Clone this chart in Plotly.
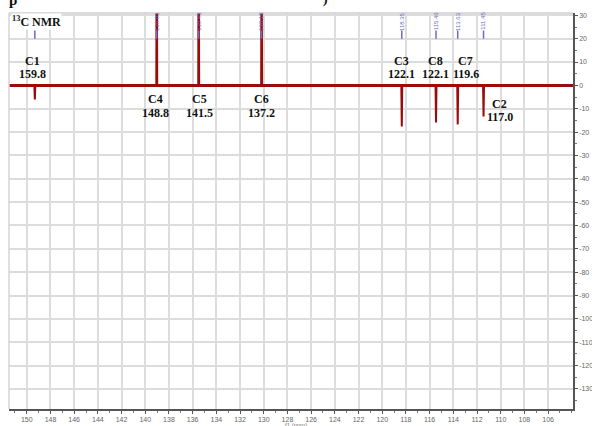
import plotly.graph_objects as go

# ---- data ----
peak_ppm = [149.32, 139.03, 135.49, 130.18, 118.35, 115.46, 113.63, 111.45]
peak_int = [-6.0, 80.0, 80.0, 80.0, -17.6, -15.9, -16.7, -13.3]
pick_labels = ["", "139.03", "135.49", "130.18", "118.35", "115.46", "113.63", "111.45"]

carbon_names = ["C1", "C4", "C5", "C6", "C3", "C8", "C7", "C2"]
carbon_shifts = ["159.8", "148.8", "141.5", "137.2", "122.1", "122.1", "119.6", "117.0"]
label_ppm = [149.49, 139.1, 135.45, 130.17, 118.35, 115.5, 112.95, 110.1]
name_y = [10.3, -6.0, -6.0, -6.0, 10.3, 10.3, 10.3, -8.1]
shift_y = [4.7, -12.0, -12.0, -12.0, 4.7, 4.7, 4.7, -13.7]

x_ticks = list(range(150, 105, -2))
y_ticks = list(range(30, -131, -10))

x_range = [151.5, 103.9]
y_range = [-138.6, 31.0]

RED = "#9a0c0c"
BLUE = "#6b6bc2"
SERIF = "Liberation Serif, Times New Roman, serif"

L, R, T, B = 9, 573, 13, 409
W, H = 592, 426

fig = go.Figure()

# baseline
fig.add_trace(go.Scatter(x=[x_range[0], x_range[1]], y=[0, 0], mode="lines",
                         line=dict(color=RED, width=3), hoverinfo="skip", showlegend=False))

# peaks as narrow sticks
px, py = [], []
for p, h in zip(peak_ppm, peak_int):
    px += [p + 0.04, p, p - 0.04, None]
    py += [0, h, 0, None]
fig.add_trace(go.Scatter(x=px, y=py, mode="lines", line=dict(color=RED, width=2),
                         hoverinfo="skip", showlegend=False))

# peak-pick ticks (blue)
tx, ty = [], []
for p in peak_ppm:
    tx += [p, p, None]
    ty += [20.0, 23.5, None]
fig.add_trace(go.Scatter(x=tx, y=ty, mode="lines", line=dict(color=BLUE, width=1.5),
                         hoverinfo="skip", showlegend=False))

annotations = []
for p, lab in zip(peak_ppm, pick_labels):
    if lab:
        annotations.append(dict(x=p, y=27.5, xref="x", yref="y", text=lab, showarrow=False,
                                textangle=-90, font=dict(size=6, color=BLUE, family="Liberation Sans")))

for xp, nm, sh, ny, sy in zip(label_ppm, carbon_names, carbon_shifts, name_y, shift_y):
    annotations.append(dict(x=xp, y=ny, xref="x", yref="y", text="<b>%s</b>" % nm, showarrow=False,
                            font=dict(size=12, color="#111", family=SERIF)))
    annotations.append(dict(x=xp, y=sy, xref="x", yref="y", text="<b>%s</b>" % sh, showarrow=False,
                            font=dict(size=12, color="#111", family=SERIF)))

# 13C NMR label
annotations.append(dict(x=(11 - L) / (R - L), y=1 - (21 - T) / (B - T), xref="paper", yref="paper",
                        text="<b><sup>13</sup>C NMR</b>", showarrow=False, xanchor="left", yanchor="middle",
                        font=dict(size=12, color="#111", family=SERIF), bgcolor="white", borderpad=0))

# x-axis title (small, partly cut at the bottom edge)
annotations.append(dict(x=(296 - L) / (R - L), y=-(420 - B) / (B - T), xref="paper", yref="paper",
                        text="f1 (ppm)", showarrow=False, xanchor="center", yanchor="top",
                        font=dict(size=6, color="#777", family="Liberation Sans")))

# caption fragments cut off at the top of the image
annotations.append(dict(x=(7 - L) / (R - L), y=1 + 13 / (B - T), xref="paper", yref="paper", text="<b>p</b>",
                        showarrow=False, xanchor="left", yanchor="middle",
                        font=dict(size=15, color="#111", family=SERIF)))
annotations.append(dict(x=(321 - L) / (R - L), y=1 + 14 / (B - T), xref="paper", yref="paper",
                        text="<b>)</b>", showarrow=False, xanchor="left", yanchor="middle",
                        font=dict(size=14, color="#111", family=SERIF)))
fig.update_layout(annotations=annotations)

# frame: top and left light-gray edges
fig.add_shape(type="line", xref="paper", yref="paper", x0=0, x1=1, y0=1, y1=1,
              line=dict(color="#cfcfcf", width=1.5))
fig.add_shape(type="line", xref="paper", yref="paper", x0=0, x1=0, y0=0, y1=1,
              line=dict(color="#d6d6d6", width=1.5))

fig.update_layout(
    width=W, height=H,
    margin=dict(l=L, r=W - R, t=T, b=H - B, autoexpand=False),
    paper_bgcolor="white", plot_bgcolor="white",
    showlegend=False,
    xaxis=dict(range=x_range, tickvals=x_ticks, ticktext=[str(v) for v in x_ticks],
               showgrid=True, gridcolor="#dcdcdc", gridwidth=1.5, automargin=False,
               zeroline=False, showline=True, linecolor="#555", linewidth=1.5,
               ticks="outside", ticklen=3, tickcolor="#555",
               minor=dict(dtick=1, tick0=150, ticks="outside", ticklen=2, tickcolor="#777", showgrid=False),
               tickfont=dict(size=7, color="#666", family="Liberation Sans")),
    yaxis=dict(range=y_range, side="right", tickvals=y_ticks,
               ticktext=[str(v) for v in y_ticks], automargin=False,
               showgrid=True, gridcolor="#dcdcdc",
               gridwidth=1.5, zeroline=False, showline=True, linecolor="#555", linewidth=1.5,
               ticks="outside", ticklen=3, tickcolor="#555",
               minor=dict(dtick=5, tick0=0, ticks="outside", ticklen=2, tickcolor="#777", showgrid=False),
               tickfont=dict(size=7, color="#666", family="Liberation Sans")),
)

fig.write_html("out.html", config={"displayModeBar": False},
               post_script="document.body.style.margin='0';document.body.style.overflow='hidden';")
